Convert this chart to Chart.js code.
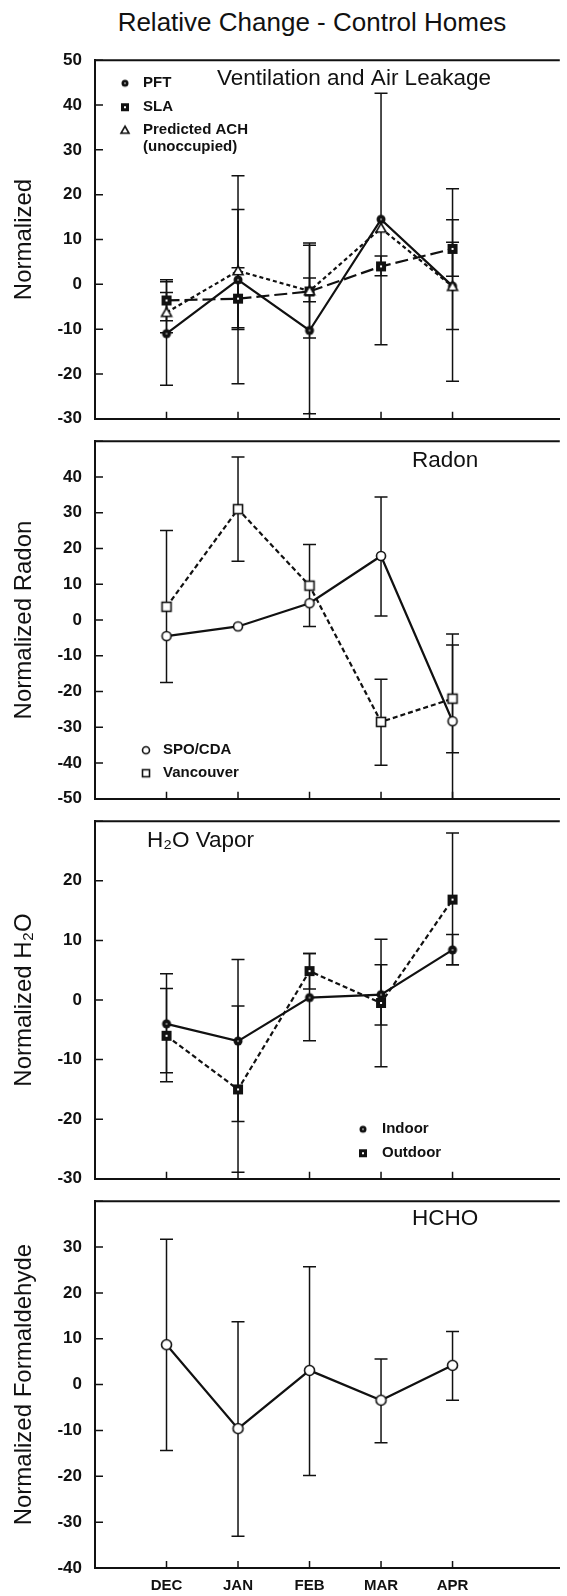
<!DOCTYPE html>
<html>
<head>
<meta charset="utf-8">
<script src="https://cdn.jsdelivr.net/npm/chart.js@4.4.1/dist/chart.umd.min.js"></script>
<style>
  html, body { margin: 0; padding: 0; background: #fff; }
  #wrap { position: relative; width: 567px; height: 1596px; overflow: hidden; }
  #title { position: absolute; left: 312px; top: 6px; transform: translateX(-50%); white-space: nowrap;
           font: 26px "Liberation Sans", Arial, sans-serif; color: #111; line-height: 32px; }
  canvas { position: absolute; left: 0; }
</style>
</head>
<body>
<div id="wrap">
  <div id="title">Relative Change - Control Homes</div>
  <canvas id="c1" width="567" height="405" style="top:37px"></canvas>
  <canvas id="c2" width="567" height="404" style="top:418px"></canvas>
  <canvas id="c3" width="567" height="404" style="top:798px"></canvas>
  <canvas id="c4" width="567" height="418" style="top:1178px"></canvas>
</div>
<script>
(function(){
  const months = ['DEC','JAN','FEB','MAR','APR'];

  // Ventilation and Air Leakage
  const pftVals = [-11.0, 1.0, -10.3, 14.5, -0.4];
  const pftHi   = [0.6, 24.2, 8.7, 42.6, 21.3];
  const pftLo   = [-22.5, -22.2, -28.9, -13.5, -21.6];
  const slaVals = [-3.6, -3.2, -1.6, 4.0, 7.9];
  const slaHi   = [1.0, 3.7, 1.4, 6.3, 9.4];
  const slaLo   = [-8.1, -9.7, -3.9, 1.9, 1.8];
  const achVals = [-6.3, 3.0, -1.5, 12.5, -0.5];
  const achHi   = [-1.8, 16.7, 9.2, null, 14.4];
  const achLo   = [-10.8, -10.1, -12.0, null, -10.1];

  // Radon
  const spoVals = [-4.5, -1.8, 4.7, 17.9, -28.3];
  const spoHi   = [null, null, null, 34.4, -3.9];
  const spoLo   = [null, null, null, 1.1, -52.7];
  const vanVals = [3.7, 31.0, 9.6, -28.5, -22.0];
  const vanHi   = [25.0, 45.6, 21.1, -16.6, -7.0];
  const vanLo   = [-17.5, 16.4, -1.8, -40.6, -37.1];

  // H2O vapor
  const indoorVals  = [-4.0, -6.9, 0.4, 0.9, 8.4];
  const indoorHi    = [4.4, 6.8, 7.8, 5.9, 11.0];
  const indoorLo    = [-12.2, -20.4, -6.85, -4.2, 5.9];
  const outdoorVals = [-6.0, -15.0, 4.85, -0.5, 16.85];
  const outdoorHi   = [1.95, -1.0, 7.8, 10.2, 28.0];
  const outdoorLo   = [-13.7, -28.9, 1.85, -11.2, 5.9];

  // HCHO
  const hchoVals = [8.7, -9.6, 3.1, -3.4, 4.2];
  const hchoHi   = [31.7, 13.7, 25.7, 5.6, 11.6];
  const hchoLo   = [-14.4, -33.1, -19.8, -12.7, -3.4];

  const INK = '#111';
  const FONT = '"Liberation Sans", Arial, "DejaVu Sans", sans-serif';

  // small marker bitmaps used as point styles
  function marker(kind, size){
    const c = document.createElement('canvas');
    const s = Math.ceil(size) + 4; c.width = c.height = s;
    const g = c.getContext('2d'); const m = s/2, r = size/2;
    g.lineWidth = 1.6; g.strokeStyle = INK; g.fillStyle = INK;
    if (kind === 'dotCircle' || kind === 'openCircle'){
      g.beginPath(); g.arc(m, m, r - 0.5, 0, Math.PI*2);
      if (kind === 'openCircle'){ g.fillStyle = '#fff'; g.fill(); g.stroke(); }
      else { g.fill(); g.fillStyle = '#fff'; g.beginPath(); g.arc(m, m, 0.8, 0, Math.PI*2); g.fill(); }
    } else if (kind === 'dotSquare' || kind === 'openSquare'){
      if (kind === 'openSquare'){ g.fillStyle = '#fff'; g.fillRect(m-r+0.5, m-r+0.5, size-1, size-1); g.strokeRect(m-r+0.5, m-r+0.5, size-1, size-1); }
      else { g.fillRect(m-r, m-r, size, size); g.fillStyle = '#fff'; g.fillRect(m-1, m-1, 2, 2); }
    } else if (kind === 'openTriangle'){
      g.beginPath(); g.moveTo(m, m-r); g.lineTo(m+r, m+r*0.75); g.lineTo(m-r, m+r*0.75); g.closePath();
      g.fillStyle = '#fff'; g.fill(); g.stroke();
    }
    return c;
  }

  const errorBars = {
    id: 'errorBars',
    beforeDatasetsDraw(chart){
      const {ctx, chartArea: a, scales: {x, y}} = chart;
      ctx.save();
      ctx.beginPath(); ctx.rect(a.left, a.top, a.right - a.left, a.bottom - a.top); ctx.clip();
      ctx.strokeStyle = INK; ctx.lineWidth = 1.5;
      chart.data.datasets.forEach(ds => {
        (ds.errHi || []).forEach((hi, i) => {
          const lo = ds.errLo[i];
          if (hi == null || lo == null) return;
          const px = x.getPixelForValue(i), t = y.getPixelForValue(hi), b = y.getPixelForValue(lo);
          ctx.beginPath();
          ctx.moveTo(px, t); ctx.lineTo(px, b);
          ctx.moveTo(px - 6.5, t); ctx.lineTo(px + 6.5, t);
          ctx.moveTo(px - 6.5, b); ctx.lineTo(px + 6.5, b);
          ctx.stroke();
        });
      });
      ctx.restore();
    }
  };

  // top frame line, inward ticks, panel caption and legend
  const panelDeco = {
    id: 'panelDeco',
    afterDraw(chart, args, opts){
      const {ctx, chartArea: a, scales: {x, y}} = chart;
      const dy = a.top - opts.top;
      ctx.save();
      ctx.strokeStyle = INK; ctx.lineWidth = 2;
      ctx.beginPath(); ctx.moveTo(a.left, a.top); ctx.lineTo(a.right, a.top); ctx.stroke();
      ctx.lineWidth = 1.5; ctx.beginPath();
      y.ticks.forEach(t => { const py = y.getPixelForValue(t.value); ctx.moveTo(a.left, py); ctx.lineTo(a.left + 8, py); });
      months.forEach((m, i) => { const px = x.getPixelForValue(i); ctx.moveTo(px, a.bottom); ctx.lineTo(px, a.bottom - 7); });
      ctx.stroke();
      ctx.fillStyle = INK; ctx.textBaseline = 'middle'; ctx.textAlign = 'left';
      ctx.font = '22.5px ' + FONT;
      ctx.fillText(opts.caption, opts.capX, opts.capY + dy);
      ctx.font = 'bold 15px ' + FONT;
      (opts.items || []).forEach(it => {
        if (it.mark) ctx.drawImage(it.mark, it.mx - it.mark.width/2, it.y + dy - it.mark.height/2);
        ctx.fillText(it.label, it.tx, it.y + dy);
      });
      ctx.restore();
    }
  };

  const pts = vals => vals.map((v, i) => ({x: i, y: v}));

  function line(vals, hi, lo, style, dash){
    return { data: pts(vals), errHi: hi, errLo: lo, borderColor: INK, borderWidth: 2.2, borderDash: dash || [],
             pointStyle: style, pointRadius: 5, tension: 0, fill: false };
  }

  function panel(id, o){
    new Chart(document.getElementById(id), {
      type: 'line',
      data: { datasets: o.datasets },
      plugins: [errorBars, panelDeco],
      options: {
        responsive: false, animation: false, events: [],
        layout: { padding: { top: 12, bottom: o.last ? 0 : 12, left: 0, right: 0 } },
        plugins: { legend: { display: false }, tooltip: { enabled: false }, panelDeco: o.deco },
        scales: {
          x: {
            type: 'linear', min: -1, max: 5.5,
            afterBuildTicks: s => { s.ticks = months.map((m, i) => ({ value: i })); },
            afterFit: s => { s.height = o.last ? 28 : 0; },
            ticks: { display: !!o.last, autoSkip: false, maxRotation: 0, padding: 9, color: INK,
                     font: { family: FONT, size: 15, weight: 'bold' }, callback: v => months[v] || '' },
            grid: { display: false, drawTicks: false },
            border: { display: true, color: INK, width: 2 }
          },
          y: {
            min: o.min, max: o.max,
            afterFit: s => { s.width = 95; },
            ticks: { stepSize: 10, padding: 13, color: INK, font: { family: FONT, size: 17, weight: 'bold' },
                     callback: v => (o.hideTop && v === o.max) ? '' : v },
            grid: { display: false, drawTicks: false },
            border: { display: true, color: INK, width: 2 },
            title: { display: true, text: o.yTitle, color: INK, font: { family: FONT, size: 24 }, padding: { top: 10, bottom: 0 } }
          }
        }
      }
    });
  }

  const mk = {
    dotCircle: marker('dotCircle', 10), dotSquare: marker('dotSquare', 10), openTri: marker('openTriangle', 10),
    openCircle: marker('openCircle', 10), openSquare: marker('openSquare', 10), bigCircle: marker('openCircle', 11),
    lgDotCircle: marker('dotCircle', 8), lgDotSquare: marker('dotSquare', 8), lgTri: marker('openTriangle', 8),
    lgCircle: marker('openCircle', 8), lgSquare: marker('openSquare', 8)
  };

  panel('c1', {
    min: -30, max: 50, yTitle: 'Normalized',
    datasets: [
      line(achVals, achHi, achLo, mk.openTri, [4, 3]),
      line(slaVals, slaHi, slaLo, mk.dotSquare, [13, 5]),
      line(pftVals, pftHi, pftLo, mk.dotCircle)
    ],
    deco: { top: 49, caption: 'Ventilation and Air Leakage', capX: 217, capY: 68, items: [
      { mark: mk.lgDotCircle, mx: 125, tx: 143, y: 72, label: 'PFT' },
      { mark: mk.lgDotSquare, mx: 125, tx: 143, y: 96, label: 'SLA' },
      { mark: mk.lgTri, mx: 125, tx: 143, y: 119, label: 'Predicted ACH' },
      { tx: 143, y: 136, label: '(unoccupied)' }
    ] }
  });

  panel('c2', {
    min: -50, max: 50, hideTop: true, yTitle: 'Normalized Radon',
    datasets: [
      line(vanVals, vanHi, vanLo, mk.openSquare, [5, 3]),
      line(spoVals, spoHi, spoLo, mk.openCircle)
    ],
    deco: { top: 430, caption: 'Radon', capX: 412, capY: 450, items: [
      { mark: mk.lgCircle, mx: 146, tx: 163, y: 739, label: 'SPO/CDA' },
      { mark: mk.lgSquare, mx: 146, tx: 163, y: 762, label: 'Vancouver' }
    ] }
  });

  panel('c3', {
    min: -30, max: 30, hideTop: true, yTitle: 'Normalized H\u2082O',
    datasets: [
      line(outdoorVals, outdoorHi, outdoorLo, mk.dotSquare, [5, 3]),
      line(indoorVals, indoorHi, indoorLo, mk.dotCircle)
    ],
    deco: { top: 810, caption: 'H\u2082O Vapor', capX: 147, capY: 830, items: [
      { mark: mk.lgDotCircle, mx: 363, tx: 382, y: 1118, label: 'Indoor' },
      { mark: mk.lgDotSquare, mx: 363, tx: 382, y: 1142, label: 'Outdoor' }
    ] }
  });

  panel('c4', {
    min: -40, max: 40, hideTop: true, last: true, yTitle: 'Normalized Formaldehyde',
    datasets: [ line(hchoVals, hchoHi, hchoLo, mk.bigCircle) ],
    deco: { top: 1190, caption: 'HCHO', capX: 412, capY: 1208, items: [] }
  });
})();
</script>
</body>
</html>
